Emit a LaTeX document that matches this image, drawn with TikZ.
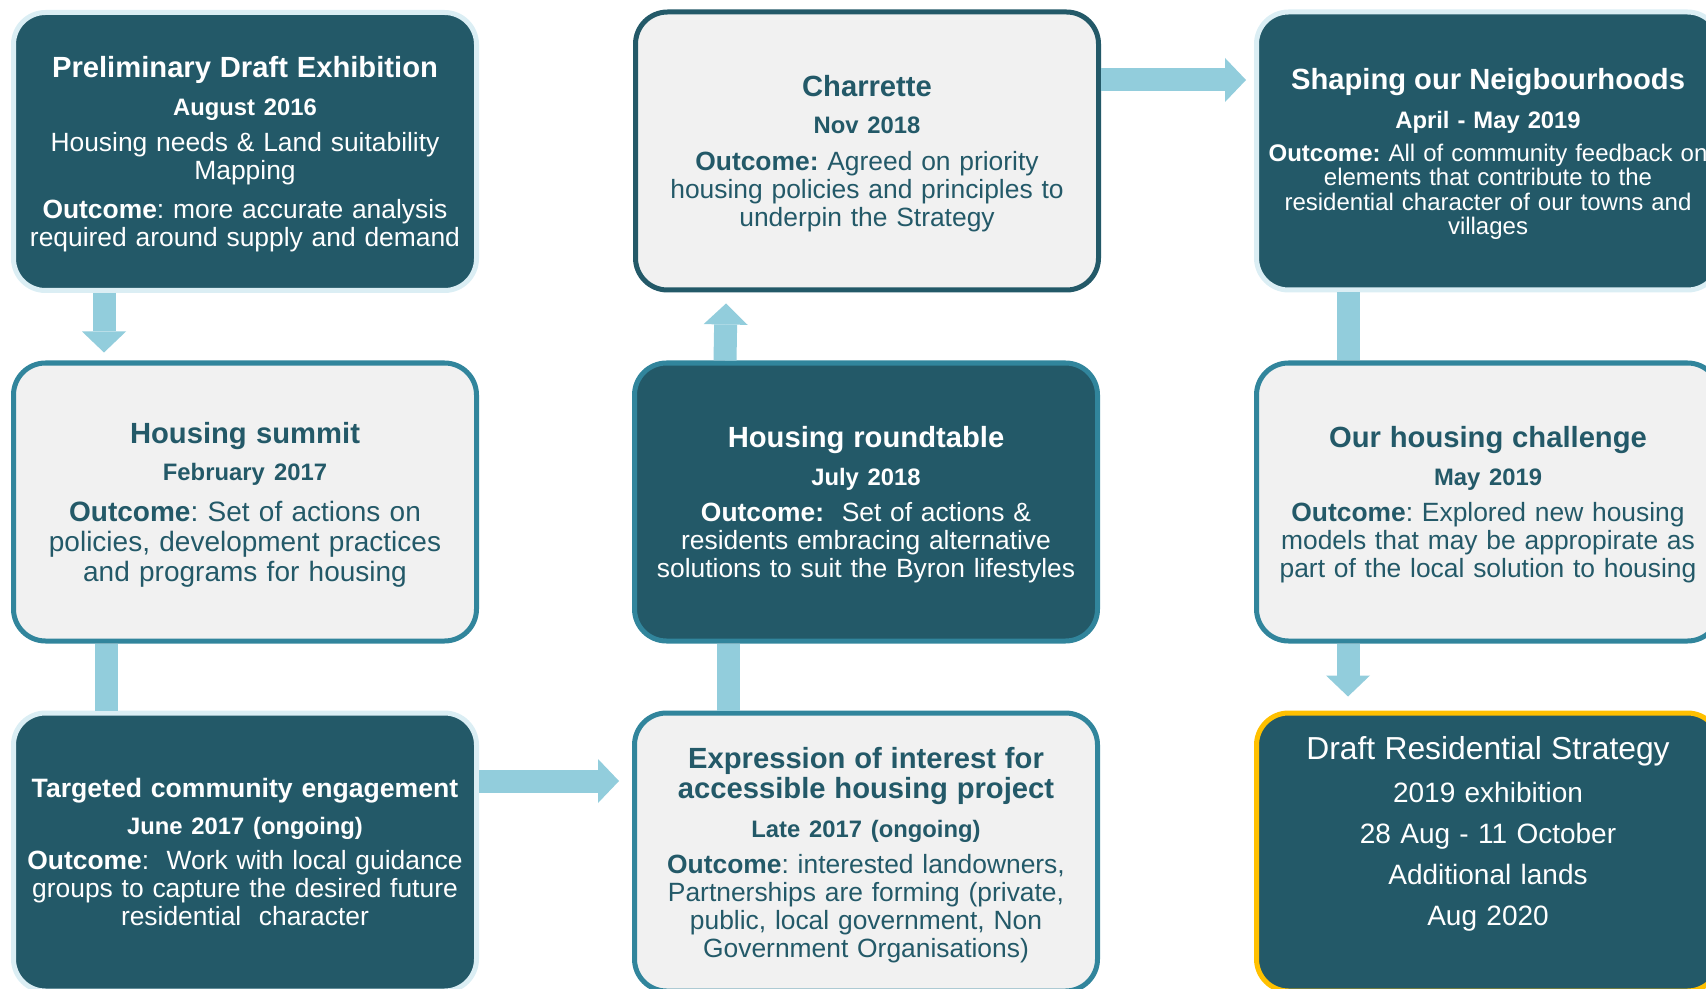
\documentclass[tikz,border=0pt]{standalone}
\usepackage{fontspec}
\setmainfont{Liberation Sans}
\usetikzlibrary{arrows.meta}
\definecolor{deepteal}{RGB}{35,89,104}
\definecolor{midteal}{RGB}{49,133,156}
\definecolor{palerim}{RGB}{219,238,244}
\definecolor{flowblue}{RGB}{146,205,220}
\definecolor{panelgrey}{RGB}{241,241,241}
\definecolor{goldrim}{RGB}{255,192,0}
\newcommand{\sttl}[1]{{\fontsize{14.6}{15}\selectfont\bfseries #1}}
\newcommand{\sdate}[1]{{\fontsize{11.9}{14}\selectfont\bfseries #1}}
\newcommand{\outc}{\textbf{Outcome}}
\frenchspacing

\begin{document}
\begin{tikzpicture}[x=0.5pt,y=-0.5pt,
  lift/.initial=13.5pt,
  stage/.style={rounded corners=16pt,line width=2.5pt,minimum width=231.5pt,minimum height=139pt,
    text width=226pt,align=center,inner sep=0pt,font=\fontsize{13.2}{14}\selectfont,
    execute at begin node={\rule{0pt}{\pgfkeysvalueof{/tikz/lift}}}},
  darkstage/.style={stage,fill=deepteal,draw=palerim,text=white},
  lightstage/.style={stage,fill=panelgrey,draw=midteal,text=deepteal},
  flow/.style={draw=flowblue,line width=11.5pt},
  flowtip/.style={flow,-{Triangle[width=22pt,length=10.5pt,line width=0pt]}}]
  \useasboundingbox (0,0) rectangle (1706,989);

  \node[darkstage] (prelim) at (245,151.5) {\sttl{Preliminary Draft Exhibition}\\[5pt]
    \sdate{August 2016}\\[4pt]
    Housing needs \& Land suitability\\ Mapping\\[5.5pt]
    \outc: more accurate analysis\\ required around supply and demand};
  \node[lightstage,draw=deepteal] (charrette) at (867,151) {\sttl{Charrette}\\[4.5pt]
    \sdate{Nov 2018}\\[4.5pt]
    \textbf{Outcome:} Agreed on priority\\ housing policies and principles to\\ underpin the Strategy};
  \node[darkstage,font=\fontsize{12}{12.3}\selectfont] (shaping) at (1488,151) {\sttl{Shaping our Neigbourhoods}\\[7.2pt]
    \sdate{April - May 2019}\\[4.2pt]
    \textbf{Outcome:} All of community feedback on\\ elements that contribute to the\\ residential character of our towns and\\ villages};

  \node[lightstage,font=\fontsize{14}{15}\selectfont] (summit) at (245,502) {\sttl{Housing summit}\\[3.5pt]
    \sdate{February 2017}\\[5.1pt]
    \outc: Set of actions on\\ policies, development practices\\ and programs for housing};
  \node[darkstage,draw=midteal] (roundtable) at (866,502) {\sttl{Housing roundtable}\\[5pt]
    \sdate{July 2018}\\[4pt]
    \textbf{Outcome:}~ Set of actions \&\\ residents embracing alternative\\ solutions to suit the Byron lifestyles};
  \node[lightstage] (challenge) at (1488,502) {\sttl{Our housing challenge}\\[5pt]
    \sdate{May 2019}\\[4pt]
    \outc: Explored new housing\\ models that may be appropirate as\\ part of the local solution to housing};

  \node[darkstage,lift=0pt] (targeted) at (245,852) {{\fontsize{13.3}{14}\selectfont\bfseries Targeted community engagement}\\[4.5pt]
    \sdate{June 2017 (ongoing)}\\[3.5pt]
    \outc:~ Work with local guidance\\ groups to capture the desired future\\ residential~ character};
  \node[lightstage] (interest) at (866,852) {\sttl{Expression of interest for}\\[1pt] \sttl{accessible housing project}\\[5.5pt]
    \sdate{Late 2017 (ongoing)}\\[4pt]
    \outc: interested landowners,\\ Partnerships are forming (private,\\ public, local government, Non\\ Government Organisations)};
  \node[darkstage,draw=goldrim,font=\fontsize{14}{20.5}\selectfont] (draft) at (1488,852) {{\fontsize{15.9}{20.5}\selectfont Draft Residential Strategy}\\[1pt]
    2019 exhibition\\ 28 Aug - 11 October\\ Additional lands\\ Aug 2020\rule[-23pt]{0pt}{0pt}};

  \draw[flowtip] ([xshift=-70.5pt]prelim.south) -- ([xshift=-70.5pt,yshift=4pt]summit.north);
  \draw[flow] ([xshift=-69.5pt]summit.south) -- ([xshift=-69.5pt]targeted.north);
  \draw[flowtip] ([yshift=35.5pt]targeted.east) -- ([yshift=35.5pt,xshift=-6.5pt]interest.west);
  \draw[flow] ([xshift=-69pt]interest.north) -- ([xshift=-69pt]roundtable.south);
  \draw[flowtip] ([xshift=-70.5pt]roundtable.north) -- ([xshift=-70.5pt,yshift=-5.5pt]charrette.south);
  \draw[flowtip] ([yshift=35.5pt]charrette.east) -- ([yshift=35.5pt,xshift=-4pt]shaping.west);
  \draw[flow] ([xshift=-70pt]shaping.south) -- ([xshift=-70pt]challenge.north);
  \draw[flowtip] ([xshift=-70pt]challenge.south) -- ([xshift=-70pt,yshift=7pt]draft.north);
\end{tikzpicture}
\end{document}
